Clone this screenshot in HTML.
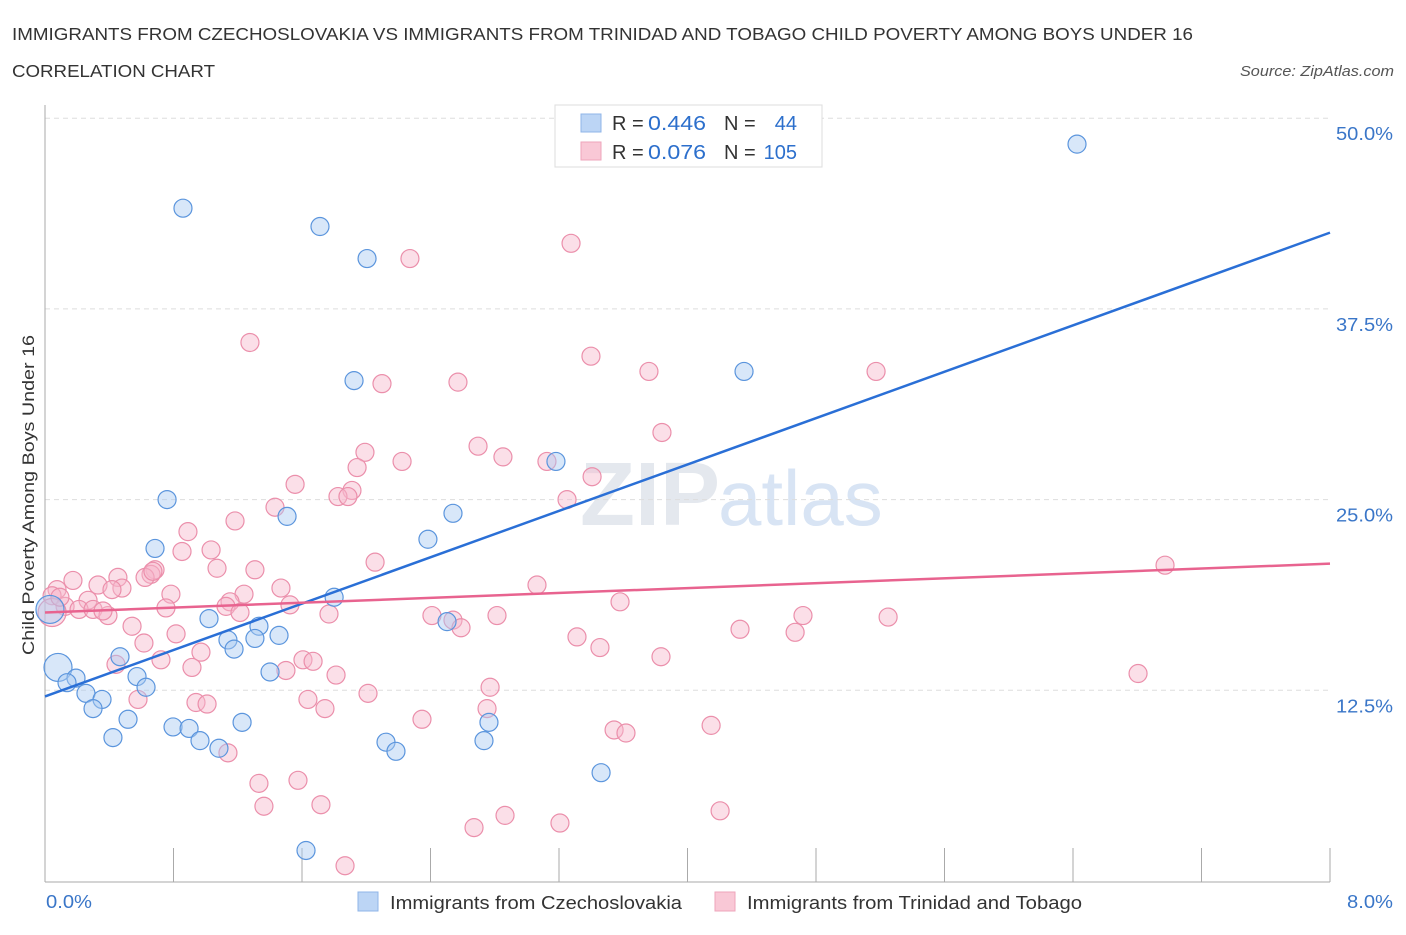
<!DOCTYPE html>
<html><head><meta charset="utf-8"><style>
body{margin:0;background:#fff;font-family:"Liberation Sans",sans-serif}
svg text{font-family:"Liberation Sans",sans-serif}
</style></head><body>
<svg id="c" width="1406" height="930">
<text x="12" y="40" font-size="17.5" fill="#333" textLength="1181" lengthAdjust="spacingAndGlyphs">IMMIGRANTS FROM CZECHOSLOVAKIA VS IMMIGRANTS FROM TRINIDAD AND TOBAGO CHILD POVERTY AMONG BOYS UNDER 16</text>
<text x="12" y="77" font-size="17.5" fill="#333" textLength="203" lengthAdjust="spacingAndGlyphs">CORRELATION CHART</text>
<text x="1394" y="76" font-size="15" fill="#555" font-style="italic" text-anchor="end" textLength="154" lengthAdjust="spacingAndGlyphs">Source: ZipAtlas.com</text>
<text x="720" y="525" font-size="90" fill="#e4e8ee" text-anchor="end" font-family="Liberation Serif" font-weight="bold">ZIP</text>
<text x="718" y="525" font-size="78" fill="#d8e4f4">atlas</text>
<g id="grid"></g><g id="axes"></g><g id="pts"></g><g id="lines"></g>
<text x="34" y="495" font-size="17" fill="#333" text-anchor="middle" textLength="320" lengthAdjust="spacingAndGlyphs" transform="rotate(-90 34 495)">Child Poverty Among Boys Under 16</text>
<text x="46" y="908" font-size="18" fill="#3a76c8" textLength="46" lengthAdjust="spacingAndGlyphs">0.0%</text>
<text x="1393" y="908" font-size="18" fill="#3a76c8" text-anchor="end" textLength="46" lengthAdjust="spacingAndGlyphs">8.0%</text>
<g>
<rect x="555" y="105" width="267" height="62" fill="#fff" stroke="#ddd"/>
<rect x="581" y="114" width="20" height="18" fill="#bcd5f5" stroke="#8fb5e8"/>
<rect x="581" y="142" width="20" height="18" fill="#f9c8d6" stroke="#eea5bb"/>
<text x="612" y="130" font-size="20" fill="#333">R =</text>
<text x="648" y="130" font-size="20" fill="#2c6fcc" textLength="58" lengthAdjust="spacingAndGlyphs">0.446</text>
<text x="724" y="130" font-size="20" fill="#333">N =</text>
<text x="797" y="130" font-size="20" fill="#2c6fcc" text-anchor="end">44</text>
<text x="612" y="159" font-size="20" fill="#333">R =</text>
<text x="648" y="159" font-size="20" fill="#2c6fcc" textLength="58" lengthAdjust="spacingAndGlyphs">0.076</text>
<text x="724" y="159" font-size="20" fill="#333">N =</text>
<text x="797" y="159" font-size="20" fill="#2c6fcc" text-anchor="end">105</text>
</g>
<g>
<rect x="358" y="892" width="20" height="19" fill="#bcd5f5" stroke="#8fb5e8"/>
<text x="390" y="909" font-size="18" fill="#333" textLength="292" lengthAdjust="spacingAndGlyphs">Immigrants from Czechoslovakia</text>
<rect x="715" y="892" width="20" height="19" fill="#f9c8d6" stroke="#eea5bb"/>
<text x="747" y="909" font-size="18" fill="#333" textLength="335" lengthAdjust="spacingAndGlyphs">Immigrants from Trinidad and Tobago</text>
</g>
</svg>
<script>
const yTicks=[12.5,25,37.5,50];
const yTickLabels=["12.5%","25.0%","37.5%","50.0%"];
const xTicks=[0,0.8,1.6,2.4,3.2,4,4.8,5.6,6.4,7.2,8];
const blueX=[0.859,1.712,2.005,6.425,4.352,1.924,3.181,0.760,1.507,2.540,2.384,0.685,1.800,1.021,2.503,1.332,1.457,1.139,1.307,1.177,0.467,1.401,0.081,0.193,0.573,0.137,0.629,0.255,0.355,0.299,0.517,2.764,0.797,0.897,1.227,0.423,0.965,2.733,2.123,1.083,2.185,3.462,1.625,0.031];
const blueY=[44.1,42.9,40.8,48.3,33.4,32.8,27.5,25.0,23.9,24.1,22.4,21.8,18.6,17.2,17.0,16.7,16.1,15.8,15.9,15.2,14.7,13.7,14.0,13.3,13.4,13.0,12.7,12.3,11.9,11.3,10.6,10.4,10.1,10.0,10.4,9.4,9.2,9.2,9.1,8.7,8.5,7.1,2.0,17.8];
const blueBig=[22,43];
const pinkX=[3.275,2.272,1.276,3.399,2.098,2.571,3.760,5.174,3.841,2.696,1.992,2.851,2.223,1.943,3.125,3.406,1.557,1.911,1.824,1.886,3.250,1.432,1.183,0.890,1.034,0.853,2.055,1.071,1.307,0.685,0.660,0.623,0.454,0.174,0.330,0.479,0.784,1.469,1.239,3.063,0.075,0.268,0.044,1.152,1.525,0.125,0.212,0.299,0.392,0.361,0.753,1.127,1.214,1.768,2.409,2.814,4.719,5.249,3.580,2.540,2.590,0.542,0.816,4.327,4.670,3.312,3.455,0.971,0.616,0.442,0.722,0.915,1.606,1.669,1.500,3.835,1.812,6.973,6.805,2.771,2.011,0.940,0.579,1.637,1.009,1.743,2.752,2.347,4.147,3.543,3.617,1.139,1.332,1.575,1.718,1.363,4.203,2.864,2.671,3.206,1.868,0.044,0.093,0.417,0.672];
const pinkY=[41.8,40.8,35.3,34.4,32.6,32.7,33.4,33.4,29.4,28.5,28.1,27.8,27.5,27.1,27.5,26.5,26.0,25.6,25.2,25.2,25.0,24.5,23.6,22.9,21.7,21.6,20.9,20.5,20.4,20.4,20.1,19.9,19.9,19.7,19.4,19.2,18.8,19.2,18.8,19.4,19.1,18.4,18.7,18.3,18.1,18.0,17.8,17.8,17.4,17.7,17.9,18.0,17.6,17.5,17.4,17.4,17.4,17.3,18.3,17.1,16.6,16.7,16.2,16.5,16.3,16.0,15.3,15.0,15.6,14.2,14.5,14.0,14.5,14.4,13.8,14.7,13.5,20.7,13.6,12.7,12.3,11.7,11.9,11.9,11.6,11.3,11.3,10.6,10.2,9.9,9.7,8.4,6.4,6.6,5.0,4.9,4.6,4.3,3.5,3.8,1.0,17.6,18.6,19.1,20.3];
const pinkBig=[101];
const blueTrend=[[0,12.1],[8,42.5]];
const pinkTrend=[[0,17.6],[8,20.8]];
const X=v=>45+v/8*1285, Y=v=>881-v/12.5*190.7;
const NS="http://www.w3.org/2000/svg";
function mk(p,t,a){const e=document.createElementNS(NS,t);for(const k in a)e.setAttribute(k,a[k]);p.appendChild(e);return e;}
const grid=document.getElementById('grid'),axes=document.getElementById('axes'),pts=document.getElementById('pts'),lines=document.getElementById('lines');
yTicks.forEach((t,i)=>{
 const l=mk(grid,'line',{x1:45,x2:1330,y1:Y(t),y2:Y(t),stroke:'#ddd','stroke-dasharray':'5,4'});
 
 
 const tx=mk(grid,'text',{x:1393,y:Y(t)+22,'font-size':18,fill:'#3a76c8','text-anchor':'end',textLength:57,lengthAdjust:'spacingAndGlyphs'});
 tx.textContent=yTickLabels[i];
 
 
});
const ax=mk(axes,'line',{x1:45,x2:1330,y1:882,y2:882,stroke:'#aaa'});


const ay=mk(axes,'line',{x1:45,x2:45,y1:105,y2:882,stroke:'#aaa'});


xTicks.forEach(t=>{
 const l=mk(axes,'line',{x1:X(t),x2:X(t),y1:848,y2:882,stroke:'#aaa'});
 
 
});
function dots(xs,ys,big,fill,stroke,name){
 xs.forEach((v,i)=>{
  const c=mk(pts,'circle',{cx:X(v),cy:Y(ys[i]),r:big.includes(i)?14:9,fill:fill,'fill-opacity':0.45,stroke:stroke,'stroke-width':1.2});
  
  
 });
}
dots(pinkX,pinkY,pinkBig,'#f7b8cb','#eb8fab','pink-point');
dots(blueX,blueY,blueBig,'#a9c9f1','#5b95dd','blue-point');
const bl=mk(lines,'line',{x1:X(blueTrend[0][0]),y1:Y(blueTrend[0][1]),x2:X(blueTrend[1][0]),y2:Y(blueTrend[1][1]),stroke:'#2a6fd6','stroke-width':2.5});


const pl=mk(lines,'line',{x1:X(pinkTrend[0][0]),y1:Y(pinkTrend[0][1]),x2:X(pinkTrend[1][0]),y2:Y(pinkTrend[1][1]),stroke:'#e8638f','stroke-width':2.5});


</script>
</body></html>
